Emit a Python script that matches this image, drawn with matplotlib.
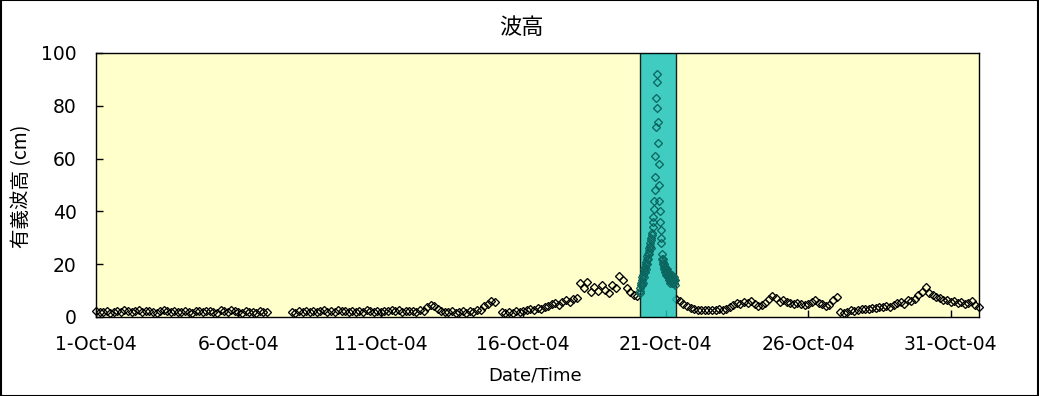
import numpy as np
import pandas as pd
import matplotlib
matplotlib.use("Agg")
import matplotlib.pyplot as plt
import matplotlib.dates as mdates
from matplotlib.ticker import FuncFormatter
from matplotlib.patches import Rectangle

nan = np.nan

# 3-hourly significant wave height (cm), one row per day (00,03,...,21h)
hs_3h = [
    [2.2, 1.8, 2.0, 2.4, 1.6, 1.9, 2.3, 2.0],  # 1-Oct
    [2.5, 2.1, 1.8, 2.2, 2.6, 2.0, 2.3, 2.4],
    [2.0, 1.7, 2.2, 2.6, 2.1, 1.9, 2.3, 2.0],
    [1.8, 2.2, 2.0, 1.6, 2.4, 2.1, 1.9, 2.2],
    [2.3, 2.0, 1.7, 2.5, 2.1, 1.8, 2.6, 2.2],
    [1.9, 1.6, 2.2, 2.0, 1.8, 1.7, 2.1, 1.9],  # 6-Oct
    [1.8, nan, nan, nan, nan, nan, nan, 2.0],
    [1.6, 2.1, 1.8, 2.3, 2.0, 2.4, 1.9, 2.2],
    [2.6, 2.0, 2.2, 1.8, 2.5, 2.1, 2.3, 2.0],
    [2.2, 1.9, 2.4, 2.0, 2.6, 2.2, 1.8, 2.3],
    [2.0, 2.4, 2.1, 2.7, 2.2, 2.5, 2.0, 2.3],  # 11-Oct
    [2.1, 2.4, 2.0, 2.6, 2.2, 3.6, 4.5, 4.0],
    [3.0, 2.4, 2.0, 1.8, 2.2, 1.6, 1.9, 2.1],
    [1.7, 2.3, 2.0, 2.6, 2.5, 4.0, 5.0, 6.0],
    [5.5, nan, 1.8, 1.5, 2.0, 1.6, 2.2, 2.0],
    [2.4, 2.8, 3.0, 2.6, 3.4, 3.2, 3.8, 4.2],  # 16-Oct
    [4.8, 5.2, 4.6, 5.8, 6.4, 5.6, 6.8, 7.2],
    [12.8, 11.0, 13.3, 9.5, 11.5, 10.0, 12.0, 10.2],
    [9.0, 12.0, 11.0, 15.5, 14.0, 11.0, 9.5, 8.5],
    [8.0, nan, nan, nan, nan, nan, nan, nan],
    [nan, nan, nan, 7.0, 6.0, 5.0, 4.2, 3.5],  # 21-Oct
    [3.0, 2.8, 2.7, 2.6, 2.8, 2.7, 2.6, 2.9],
    [2.8, 3.2, 3.6, 4.5, 5.3, 4.8, 5.7, 5.2],
    [6.0, 5.0, 4.2, 4.5, 5.3, 6.8, 8.0, 7.2],
    [5.8, 6.4, 5.6, 5.2, 5.0, 5.3, 4.8, 4.5],
    [5.0, 5.8, 6.4, 5.4, 5.0, 4.0, 4.5, 6.5],  # 26-Oct
    [7.5, 2.0, 1.5, 2.0, 2.5, 2.2, 2.8, 3.0],
    [3.2, 3.0, 3.5, 3.4, 3.8, 3.6, 4.0, 3.8],
    [4.5, 5.2, 5.7, 5.0, 6.4, 6.0, 7.0, 8.3],
    [9.5, 11.4, 9.0, 8.5, 7.5, 7.2, 6.5, 6.4],
    [5.5, 6.0, 5.2, 5.6, 5.0, 5.3, 6.0, 4.5],  # 31-Oct
]
hs_last = 3.8  # 1-Nov 00:00

# 20-minute values through the storm, 20-Oct 02:00 .. 21-Oct 08:00
storm_start = "2004-10-20 02:00"
hs_storm = [
    9, 11, 10, 12, 13, 12, 14, 15, 13, 16, 17, 15, 18, 17, 19,
    20, 18, 21, 22, 20, 23, 24, 22, 25, 26, 24, 27, 28, 26, 29,
    30, 32, 31, 34, 36, 38, 41, 44,
    48, 53, 61, 72, 83,
    92, 89, 79, 74, 66, 58, 50, 44, 40, 36, 33,
    30, 28, 24, 22, 21, 20, 22, 19, 18, 20, 17, 19, 18, 16, 17, 18,
    16, 15, 17, 16, 14, 15, 16, 14, 13, 15, 14, 16, 13, 15, 14, 13,
    15, 14, 13, 14, 12,
]

band_start = "2004-10-20 02:10"
band_end = "2004-10-21 08:25"

tick_days = [1, 6, 11, 16, 21, 26, 31]

# ---------------------------------------------------------------------------
plt.rcParams['font.family'] = ['DejaVu Sans', 'Noto Sans CJK JP']

base_vals = [v for day in hs_3h for v in day] + [hs_last]
base_t = pd.date_range("2004-10-01", periods=len(base_vals), freq="3h")
storm_t = pd.date_range(storm_start, periods=len(hs_storm), freq="20min")

fig = plt.figure(figsize=(10.39, 3.96), dpi=100)
ax = fig.add_axes([96 / 1039, 1 - 317 / 396, 883 / 1039, 264 / 396])
ax.set_facecolor('#ffffcc')

mk = dict(linestyle='none', marker='D', markersize=3.8, markerfacecolor='none',
          markeredgewidth=0.95, clip_on=False)
ax.plot(base_t, base_vals, markeredgecolor='black', zorder=2, **mk)

# storm period highlighted; its points show through darker
ax.axvspan(pd.Timestamp(band_start), pd.Timestamp(band_end), facecolor='#20c4c0',
           edgecolor='black', linewidth=1, alpha=0.85, zorder=3)
ax.plot(storm_t, hs_storm, markeredgecolor='#0b6660', zorder=4, **mk)

ax.set_xlim(pd.Timestamp("2004-10-01"), pd.Timestamp("2004-11-01"))
ax.set_ylim(0, 100)
ax.set_yticks(range(0, 101, 20))
ax.set_xticks([pd.Timestamp(2004, 10, d) for d in tick_days])
ax.xaxis.set_major_formatter(FuncFormatter(
    lambda v, p: "{}-{}".format(mdates.num2date(v).day, mdates.num2date(v).strftime("%b-%y"))))
ax.tick_params(direction='in', length=5, width=1, labelsize=13.5, colors='black')
ax.tick_params(axis='y', pad=14)
ax.tick_params(axis='x', pad=13)
for s in ax.spines.values():
    s.set_linewidth(1)
    s.set_color('black')

fig.text(521 / 1039, 1 - 27 / 396, '波高', ha='center', va='center', fontsize=16,
         family=['Noto Sans CJK JP'])
fig.text(22 / 1039, 1 - 186 / 396, '有義波高 (cm)', ha='center', va='center',
         rotation=90, fontsize=14, family=['Noto Sans CJK JP', 'DejaVu Sans'])
fig.text(535 / 1039, 1 - 376 / 396, 'Date/Time', ha='center', va='center', fontsize=13)

fig.patches.append(Rectangle((0.0005, 0.001), 0.999, 0.998, transform=fig.transFigure,
                             fill=False, edgecolor='black', linewidth=1.5))

fig.savefig("out.png", dpi=100)
